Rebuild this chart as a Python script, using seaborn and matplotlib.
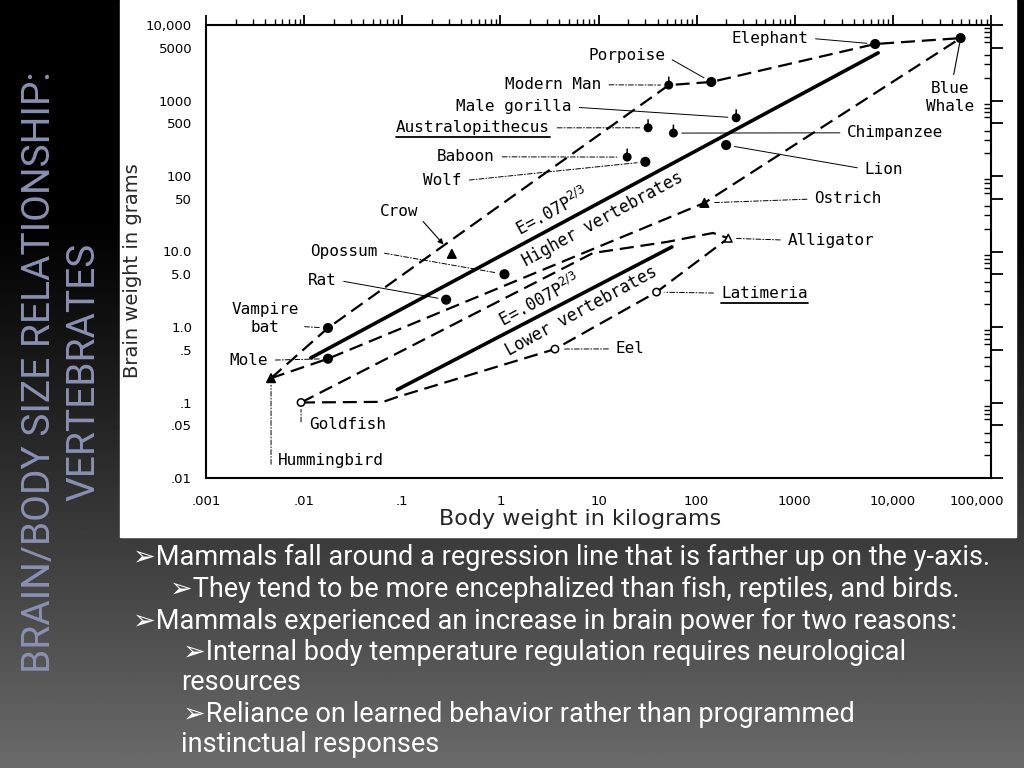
import numpy as np
import pandas as pd
import seaborn as sns
import matplotlib.pyplot as plt
from matplotlib.path import Path
from matplotlib.patches import Rectangle
from matplotlib.lines import Line2D
from matplotlib.text import Text
from matplotlib.transforms import ScaledTranslation
from matplotlib.ticker import FixedLocator, FixedFormatter, LogLocator, NullFormatter

# %%
# animals: body weight in kg, brain weight in g
species = ['Elephant', 'Blue Whale', 'Porpoise', 'Modern Man', 'Male gorilla',
           'Australopithecus', 'Chimpanzee', 'Baboon', 'Wolf', 'Lion', 'Opossum',
           'Rat', 'Vampire bat', 'Mole', 'Ostrich', 'Crow', 'Hummingbird',
           'Alligator', 'Latimeria', 'Eel', 'Goldfish']
body_kg = [6600, 49000, 141, 52, 253, 32, 58, 19.6, 30, 200, 1.1,
           0.28, 0.0175, 0.0175, 120, 0.32, 0.0046, 210, 39, 3.6, 0.0093]
brain_g = [5600, 6700, 1760, 1600, 590, 435, 370, 178, 154, 257, 5.0,
           2.3, 0.97, 0.38, 44, 9.3, 0.21, 15, 2.9, 0.51, 0.1]
kind = ['mammal', 'mammal', 'mammal', 'primate', 'primate', 'primate', 'primate',
        'primate', 'mammal', 'mammal', 'mammal', 'mammal', 'mammal', 'mammal',
        'bird', 'bird', 'bird', 'reptile', 'fish', 'fish', 'fish']

# outline of the higher vertebrates (by animal)
higher_top = ['Hummingbird', 'Vampire bat', 'Modern Man', 'Porpoise', 'Elephant', 'Blue Whale']
higher_bottom = ['Hummingbird', 'Mole', 'Ostrich', 'Blue Whale']

# extra corners of the lower vertebrate outline
lower_top_x = [8.8, 50, 147]
lower_top_y = [9.55, 13.4, 17.6]
lower_bottom_x = [0.064, 0.0885]
lower_bottom_y = [0.102, 0.118]

# regression lines E = k P^(2/3)
higher_fit_x = [0.0117, 7080]
higher_fit_y = [0.39, 4270]
lower_fit_x = [0.089, 56]
lower_fit_y = [0.148, 11.5]

y_ticks = [10000, 5000, 1000, 500, 100, 50, 10, 5, 1, 0.5, 0.1, 0.05, 0.01]
y_tick_labels = ['10,000', '5000', '1000', '500', '100', '50', '10.0', '5.0',
                 '1.0', '.5', '.1', '.05', '.01']
x_ticks = [0.001, 0.01, 0.1, 1, 10, 100, 1000, 10000, 100000]
x_tick_labels = ['.001', '.01', '.1', '1', '10', '100', '1000', '10,000', '100,000']

title = 'BRAIN/BODY SIZE RELATIONSHIP:\nVERTEBRATES'
bullets = ['➢Mammals fall around a regression line that is farther up on the y-axis.',
           '➢They tend to be more encephalized than fish, reptiles, and birds.',
           '➢Mammals experienced an increase in brain power for two reasons:',
           '➢Internal body temperature regulation requires neurological',
           'resources',
           '➢Reliance on learned behavior rather than programmed',
           'instinctual responses']

# %%
df = pd.DataFrame({'species': species, 'body': body_kg, 'brain': brain_g, 'kind': kind})
pts = df.set_index('species')

sns.set_style('white')
plt.rcParams['font.family'] = ['DejaVu Sans']

fig = plt.figure(figsize=(10.24, 7.68), dpi=100)

# slide background: dark gradient + white picture panel
bg = fig.add_axes([0, 0, 1, 1], zorder=0)
rows = np.linspace(0, 1, 300)
shade = np.clip((rows - 0.28) / 0.72, 0, 1) ** 1.1 * 0.42
bg.imshow(np.tile(shade[:, None], (1, 4)), cmap='gray', vmin=0, vmax=1,
          aspect='auto', extent=[0, 1024, 768, 0])
bg.add_patch(Rectangle((120, 0), 896, 537, color='white'))
bg.set_xlim(0, 1024)
bg.set_ylim(768, 0)
bg.axis('off')

ax = fig.add_axes([206 / 1024, 1 - 478 / 768, 785 / 1024, 453 / 768], zorder=2)
ax.set_facecolor('white')
ax.set_xscale('log')
ax.set_yscale('log')
ax.set_xlim(1e-3, 1e5)
ax.set_ylim(1e-2, 1e4)

dash = dict(color='black', lw=1.6, linestyle=(0, (6.3, 3.1)), sort=False, estimator=None,
            ax=ax, legend=False)

# dashed outlines
sns.lineplot(x=pts.loc[higher_top, 'body'].values, y=pts.loc[higher_top, 'brain'].values, **dash)
sns.lineplot(x=pts.loc[higher_bottom, 'body'].values, y=pts.loc[higher_bottom, 'brain'].values, **dash)
g = pts.loc['Goldfish']
a = pts.loc['Alligator']
sns.lineplot(x=[g.body] + lower_top_x + [a.body], y=[g.brain] + lower_top_y + [a.brain], **dash)
low_end = pts.loc[['Eel', 'Latimeria', 'Alligator']]
sns.lineplot(x=[g.body] + lower_bottom_x + list(low_end.body),
             y=[g.brain] + lower_bottom_y + list(low_end.brain), **dash)

# regression lines
sns.lineplot(x=higher_fit_x, y=higher_fit_y, color='black', lw=2.6, ax=ax)
sns.lineplot(x=lower_fit_x, y=lower_fit_y, color='black', lw=2.6, ax=ax)

# markers: primates get a small tick on top of the dot
primate = Path.make_compound_path(Path.unit_circle(),
                                  Path([[0, 1], [0, 2.3]], [Path.MOVETO, Path.LINETO]))
sns.scatterplot(data=df, x='body', y='brain', hue='kind', style='kind',
                palette={'mammal': 'black', 'primate': 'black', 'bird': 'black',
                         'reptile': 'white', 'fish': 'white'},
                markers={'mammal': 'o', 'primate': primate, 'bird': '^',
                         'reptile': '^', 'fish': 'o'},
                size='kind', sizes={'mammal': 38, 'primate': 150, 'bird': 38,
                                    'reptile': 30, 'fish': 28},
                edgecolor='black', linewidth=1.1, legend=False, zorder=5, ax=ax)

# axes and ticks
for s in ax.spines.values():
    s.set_linewidth(1.5)
    s.set_color('black')
ax.yaxis.set_major_locator(FixedLocator(y_ticks))
ax.yaxis.set_major_formatter(FixedFormatter(y_tick_labels))
ax.yaxis.set_minor_locator(LogLocator(base=10, subs=(2, 3, 4, 6, 7, 8, 9), numticks=20))
ax.yaxis.set_minor_formatter(NullFormatter())
ax.xaxis.set_major_locator(FixedLocator(x_ticks))
ax.xaxis.set_major_formatter(FixedFormatter(x_tick_labels))
ax.xaxis.set_minor_locator(LogLocator(base=10, subs=np.arange(2, 10), numticks=20))
ax.xaxis.set_minor_formatter(NullFormatter())
ax.tick_params(which='both', top=True, right=True, color='black', labelcolor='black')
ax.tick_params(axis='y', which='major', direction='out', length=8.5, width=1.3, pad=1.5, labelsize=9.5)
ax.tick_params(axis='y', which='minor', direction='in', length=5, width=1)
ax.tick_params(axis='x', which='major', direction='out', length=7, width=1.3, pad=5, labelsize=9.5)
ax.tick_params(axis='x', which='minor', direction='out', length=4.5, width=1)
ax.set_xlabel('Body weight in kilograms', fontsize=16)
ax.set_ylabel('Brain weight in grams', fontsize=14)
ax.xaxis.set_label_coords(0.476, -0.069)
ax.yaxis.set_label_coords(-0.082, 0.457)

# the last x label sits a little left of its tick, as in the scan
last = ax.get_xticklabels()[-1]
last.set_transform(last.get_transform() + ScaledTranslation(-0.14, 0, fig.dpi_scale_trans))

# labels with leader lines (position in axes fraction, alignment)
label_pos = {
    'Elephant': (0.767, 0.971, 'right'),
    'Porpoise': (0.585, 0.932, 'right'),
    'Modern Man': (0.504, 0.868, 'right'),
    'Male gorilla': (0.466, 0.819, 'right'),
    'Australopithecus': (0.438, 0.773, 'right'),
    'Chimpanzee': (0.817, 0.762, 'left'),
    'Lion': (0.839, 0.682, 'left'),
    'Baboon': (0.368, 0.709, 'right'),
    'Wolf': (0.326, 0.656, 'right'),
    'Ostrich': (0.775, 0.616, 'left'),
    'Alligator': (0.741, 0.525, 'left'),
    'Opossum': (0.218, 0.499, 'right'),
    'Rat': (0.166, 0.437, 'right'),
    'Mole': (0.079, 0.260, 'right'),
    'Latimeria': (0.656, 0.408, 'left'),
    'Eel': (0.522, 0.285, 'left'),
}
solid_leaders = ['Elephant', 'Porpoise', 'Male gorilla', 'Lion', 'Rat', 'Chimpanzee']
lab_font = dict(family='DejaVu Sans Mono', fontsize=11.5, color='black')

texts = {}
for name, (fx, fy, ha) in label_pos.items():
    p = pts.loc[name]
    ls = '-' if name in solid_leaders else (0, (5, 2, 1, 2))
    texts[name] = ax.annotate(name, xy=(p.body, p.brain), xycoords='data',
                              xytext=(fx, fy), textcoords='axes fraction', ha=ha, va='center',
                              arrowprops=dict(arrowstyle='-', lw=0.7, ls=ls, color='black',
                                              shrinkA=3, shrinkB=6,
                                              relpos=(1, 0.5) if ha == 'right' else (0, 0.5)),
                              zorder=6, **lab_font)

p = pts.loc['Vampire bat']
ax.annotate('Vampire\nbat', xy=(p.body, p.brain), xytext=(0.075, 0.351),
            textcoords='axes fraction', ha='center', va='center', multialignment='center',
            linespacing=1.25,
            arrowprops=dict(arrowstyle='-', lw=0.7, ls=(0, (5, 2, 1, 2)), color='black',
                            shrinkA=2, shrinkB=6, relpos=(0.8, 0.3)), **lab_font)
p = pts.loc['Blue Whale']
ax.annotate('Blue\nWhale', xy=(p.body, p.brain), xytext=(0.948, 0.841),
            textcoords='axes fraction', ha='center', va='center', multialignment='center',
            linespacing=1.25,
            arrowprops=dict(arrowstyle='-', lw=0.8, color='black',
                            shrinkA=2, shrinkB=4, relpos=(0.55, 1)), **lab_font)
p = pts.loc['Crow']
ax.annotate('Crow', xy=(p.body, p.brain), xytext=(0.270, 0.589),
            textcoords='axes fraction', ha='right', va='center',
            arrowprops=dict(arrowstyle='-|>', lw=0.8, color='black', mutation_scale=8,
                            shrinkA=2, shrinkB=9, relpos=(1, 0.2)), **lab_font)

# vertical leaders under goldfish and hummingbird
for name, drop, (fx, fy) in [('Goldfish', 14, (0.132, 0.119)), ('Hummingbird', 62, (0.092, 0.038))]:
    p = pts.loc[name]
    ax.annotate('', xy=(p.body, p.brain), xytext=(0, -drop), textcoords='offset points',
                arrowprops=dict(arrowstyle='-', lw=0.7, ls=(0, (5, 2, 1, 2)), color='black',
                                shrinkA=0, shrinkB=5))
    ax.text(fx, fy, name, transform=ax.transAxes, ha='left', va='center', **lab_font)

# equations and group names along the regression lines
eq_font = dict(family='DejaVu Sans Mono', fontsize=12, color='black',
               rotation=28.5, rotation_mode='anchor', ha='center', va='center',
               transform=ax.transAxes)
ax.text(0.441, 0.587, 'E=.07P$^{2/3}$', **eq_font)
ax.text(0.506, 0.572, 'Higher vertebrates', **eq_font)
ax.text(0.425, 0.393, 'E=.007P$^{2/3}$', **eq_font)
ax.text(0.478, 0.369, 'Lower vertebrates', **eq_font)

# slide text
fig.text(0.0605, 0.516, title, rotation=90, ha='center', va='center', multialignment='center',
         color='#8a90b2', fontsize=28, family=['Roboto', 'DejaVu Sans'], fontweight='normal',
         linespacing=1.25)

bullet_x = [133, 170, 133, 183, 181, 183, 181]
bullet_y = [557, 589, 621, 652, 683, 714, 744]
for line, bx, by in zip(bullets, bullet_x, bullet_y):
    fig.text(bx / 1024, 1 - by / 768, line, ha='left', va='center', color='white',
             fontsize=19.5, family=['Roboto', 'DejaVu Sans'])

# underline the two fossil names
fig.canvas.draw()
renderer = fig.canvas.get_renderer()
inv = fig.transFigure.inverted()
for name in ['Australopithecus', 'Latimeria']:
    bb = Text.get_window_extent(texts[name], renderer)
    (x0, y0), (x1, _) = inv.transform([(bb.x0, bb.y0 - 2), (bb.x1, bb.y0 - 2)])
    fig.add_artist(Line2D([x0, x1], [y0, y0], color='black', lw=1.3, zorder=10))

fig.savefig('out.png', dpi=100)
